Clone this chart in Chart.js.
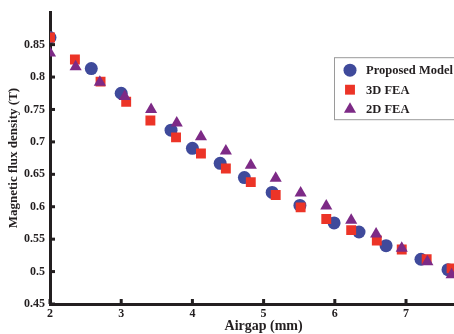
<!DOCTYPE html>
<html>
<head>
    <meta charset="UTF-8">
    <title>Magnetic flux density vs airgap</title>
    <script src="https://cdn.jsdelivr.net/npm/chart.js"></script>
    <style>
        body { margin: 0; background: #fff; }
    </style>
</head>
<body>
    <canvas id="fluxCanvas" width="454" height="334"></canvas>

    <script>
        // valeurs
        const modelX = [2.0, 2.58, 3.0, 3.7, 4.0, 4.39, 4.73, 5.12, 5.51, 5.99, 6.34, 6.72, 7.21, 7.59];
        const modelY = [0.861, 0.813, 0.775, 0.718, 0.690, 0.667, 0.645, 0.622, 0.602, 0.575, 0.561, 0.540, 0.519, 0.503];

        const fea3dX = [2.0, 2.35, 2.71, 3.07, 3.41, 3.77, 4.12, 4.47, 4.82, 5.17, 5.52, 5.88, 6.23, 6.59, 6.94, 7.29, 7.64];
        const fea3dY = [0.861, 0.827, 0.793, 0.762, 0.733, 0.707, 0.682, 0.659, 0.638, 0.618, 0.599, 0.581, 0.564, 0.548, 0.534, 0.519, 0.505];

        const fea2dX = [2.0, 2.36, 2.70, 3.05, 3.42, 3.78, 4.12, 4.47, 4.82, 5.17, 5.52, 5.88, 6.23, 6.58, 6.94, 7.30, 7.64];
        const fea2dY = [0.837, 0.816, 0.792, 0.770, 0.750, 0.729, 0.708, 0.686, 0.664, 0.644, 0.621, 0.601, 0.579, 0.558, 0.536, 0.515, 0.495];

        const seriesLabels = ["Proposed Model", "3D FEA", "2D FEA"];
        const xTitle = "Airgap (mm)";
        const yTitle = "Magnetic flux density (T)";

        const axisColor = "#231f20";
        const serif = '"Liberation Serif", "Times New Roman", serif';
        const colBlue = "#3f4a9b";
        const colRed = "#ec3427";
        const colPurple = "#7d2a86";

        const toPoints = (xs, ys) => xs.map((x, i) => ({ x: x, y: ys[i] }));
        const shownTick = v => v <= 0.875;

        function drawMarker(ctx, style, x, y, r, color) {
            ctx.fillStyle = color;
            ctx.beginPath();
            if (style === "circle") {
                ctx.arc(x, y, r, 0, Math.PI * 2);
            } else if (style === "rect") {
                const s = r * Math.SQRT1_2;
                ctx.rect(x - s, y - s, 2 * s, 2 * s);
            } else {
                ctx.moveTo(x, y - r);
                ctx.lineTo(x + r * Math.sqrt(3) / 2, y + r / 2);
                ctx.lineTo(x - r * Math.sqrt(3) / 2, y + r / 2);
                ctx.closePath();
            }
            ctx.fill();
        }

        // ticks vers l'interieur, titres des axes et legende encadree
        const decor = {
            id: "decor",
            afterDraw(chart) {
                const { ctx, chartArea: a, scales: { x, y } } = chart;
                ctx.save();
                ctx.fillStyle = axisColor;
                x.ticks.forEach(t => {
                    const px = x.getPixelForValue(t.value);
                    ctx.fillRect(px - 1.5, a.bottom - 5, 3, 5);
                });
                y.ticks.filter(t => shownTick(t.value)).forEach(t => {
                    const py = y.getPixelForValue(t.value);
                    ctx.fillRect(a.left, py - 1.5, 5, 3);
                });

                ctx.textAlign = "center";
                ctx.textBaseline = "middle";
                ctx.font = "bold 14px " + serif;
                ctx.fillText(xTitle, x.getPixelForValue(5), 326);
                ctx.save();
                ctx.font = "bold 13px " + serif;
                ctx.translate(14, (a.top + a.bottom) / 2);
                ctx.rotate(-Math.PI / 2);
                ctx.fillText(yTitle, 0, 0);
                ctx.restore();

                // legende
                const lx = a.right - 120, ly = a.top + 45;
                ctx.fillStyle = "#fff";
                ctx.fillRect(lx, ly, 140, 62);
                ctx.strokeStyle = "#9a9a9a";
                ctx.lineWidth = 1;
                ctx.strokeRect(lx + 0.5, ly + 0.5, 140, 62);
                ctx.font = "bold 12.5px " + serif;
                ctx.textAlign = "left";
                chart.data.datasets.forEach((ds, i) => {
                    const cy = ly + 13 + i * 19.5;
                    drawMarker(ctx, ds.pointStyle, lx + 16, cy, ds.pointRadius, ds.backgroundColor);
                    ctx.fillStyle = axisColor;
                    ctx.fillText(ds.label, lx + 32, cy + 1);
                });
                ctx.restore();
            }
        };

        const tickFont = { family: serif, size: 12, weight: "bold" };

        new Chart(document.getElementById("fluxCanvas"), {
            type: "scatter",
            data: {
                datasets: [
                    { label: seriesLabels[0], data: toPoints(modelX, modelY), pointStyle: "circle", pointRadius: 6.5, backgroundColor: colBlue, borderWidth: 0, order: 3 },
                    { label: seriesLabels[1], data: toPoints(fea3dX, fea3dY), pointStyle: "rect", pointRadius: 7, backgroundColor: colRed, borderWidth: 0, order: 2 },
                    { label: seriesLabels[2], data: toPoints(fea2dX, fea2dY), pointStyle: "triangle", pointRadius: 7, backgroundColor: colPurple, borderWidth: 0, order: 1 }
                ]
            },
            options: {
                responsive: false,
                animation: false,
                layout: { autoPadding: false, padding: { top: 10, right: 0, bottom: 0, left: 0 } },
                plugins: { legend: { display: false }, tooltip: { enabled: false } },
                scales: {
                    x: {
                        type: "linear",
                        min: 2,
                        max: 7.674,
                        grid: { display: false, drawTicks: false, tickLength: 0 },
                        border: { color: axisColor, width: 3 },
                        ticks: { stepSize: 1, includeBounds: false, color: axisColor, font: tickFont, padding: 3, maxRotation: 0 },
                        afterFit: s => { s.height = 30; }
                    },
                    y: {
                        type: "linear",
                        min: 0.45,
                        max: 0.9,
                        grid: { display: false, drawTicks: false, tickLength: 0 },
                        border: { color: axisColor, width: 3 },
                        ticks: {
                            stepSize: 0.05,
                            includeBounds: false,
                            color: axisColor,
                            font: tickFont,
                            padding: 5,
                            callback: v => shownTick(v) ? String(+v.toFixed(2)) : ""
                        },
                        afterFit: s => { s.width = 50; }
                    }
                }
            },
            plugins: [decor]
        });
    </script>
</body>
</html>
